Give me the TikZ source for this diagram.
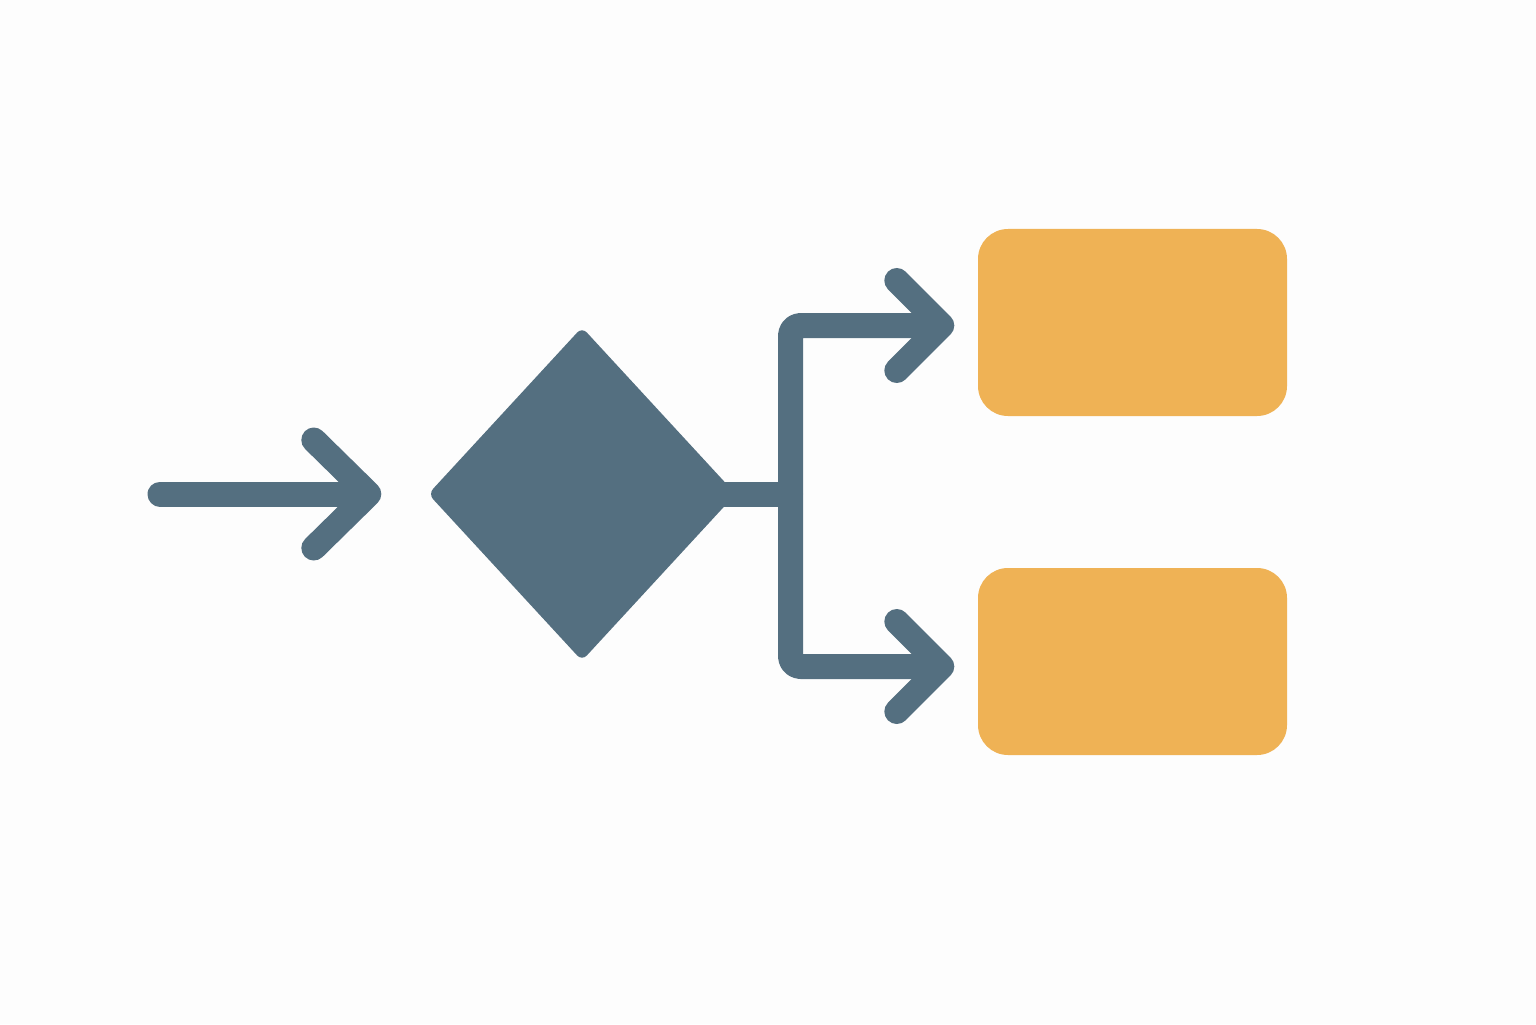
\documentclass[tikz,border=0pt]{standalone}
\usetikzlibrary{arrows.meta,shapes.geometric}
\definecolor{slate}{RGB}{84,111,128}
\definecolor{amber}{RGB}{239,178,85}
\definecolor{paper}{RGB}{253,253,253}
\tikzset{
link/.style={draw=slate,line width=0.25cm,line join=round},
flow/.style={link,line cap=round,-{Straight Barb[length=0.55cm,width=1.08cm,line cap=round,line join=round]}},
branch/.style={link,line cap=round,-{Straight Barb[length=0.45cm,width=0.9cm,line cap=round,line join=round]}},
choice/.style={diamond,fill=slate,minimum width=3.08cm,minimum height=3.34cm,inner sep=0pt,rounded corners=2pt},
outcome/.style={fill=amber,rounded corners=0.3cm,minimum width=3.09cm,minimum height=1.87cm,inner sep=0pt}
}
\begin{document}
\begin{tikzpicture}
\fill[paper] (0,0) rectangle (15.36,10.24);
\coordinate (in) at (1.60,5.30);
\node[choice] (dec) at (5.82,5.30) {};
\coordinate (split) at (7.905,5.30);
\node[outcome] (yes) at (11.325,7.015) {};
\node[outcome] (no) at (11.325,3.625) {};
\draw[flow,shorten >=0.46cm] (in) -- (dec.west);
\draw[link] ([xshift=-0.15cm]dec.east) -- (split);
\foreach \b/\d in {yes/-0.03,no/-0.05}
{
\draw[branch,rounded corners=0.1cm,shorten >=0.23cm] (split) |- ([yshift=\d cm]\b.west);
}
\end{tikzpicture}
\end{document}
